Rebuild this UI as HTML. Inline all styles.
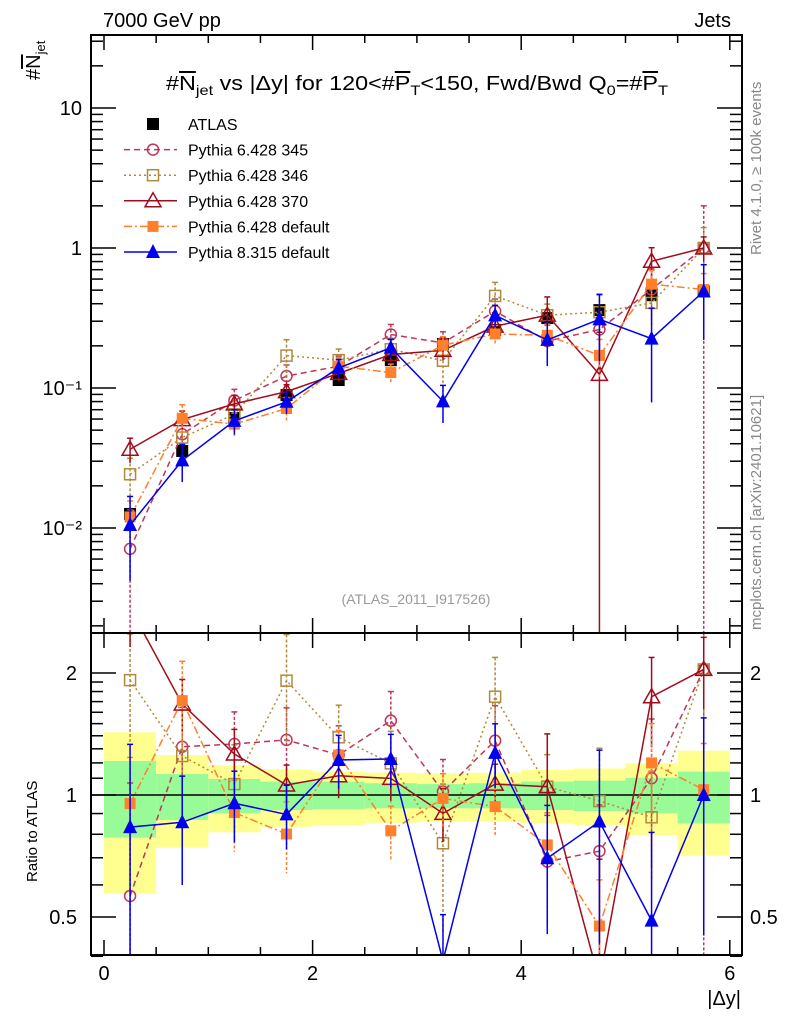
<!DOCTYPE html>
<html><head><meta charset="utf-8">
<style>
html,body{margin:0;background:#fff;overflow:hidden;width:786px;height:1024px;}
svg{display:block;font-family:"Liberation Sans",Arial,sans-serif;}
.ov{text-decoration:overline;}
</style></head>
<body>
<svg id="chart" width="786" height="1024" viewBox="0 0 786 1024" xmlns="http://www.w3.org/2000/svg">
<rect width="786" height="1024" fill="#fff"/>
<text x="103" y="27" font-size="20">7000 GeV pp</text>
<text x="731" y="27" font-size="20" text-anchor="end">Jets</text>
<text transform="translate(40,80) rotate(-90)" font-size="20">#<tspan class="ov">N</tspan><tspan font-size="13" dy="5">jet</tspan></text>
<text x="166" y="90" font-size="20" textLength="502" lengthAdjust="spacingAndGlyphs">#<tspan class="ov">N</tspan><tspan font-size="14" dy="5">jet</tspan><tspan dy="-5"> vs |Δy| for 120&lt;#</tspan><tspan class="ov">P</tspan><tspan font-size="14" dy="5">T</tspan><tspan dy="-5">&lt;150, Fwd/Bwd Q</tspan><tspan font-size="14" dy="5">0</tspan><tspan dy="-5">=#</tspan><tspan class="ov">P</tspan><tspan font-size="14" dy="5">T</tspan></text>
<text transform="translate(761,255) rotate(-90)" font-size="15" fill="#888">Rivet 4.1.0, ≥ 100k events</text>
<text transform="translate(761,630) rotate(-90)" font-size="15" fill="#888">mcplots.cern.ch [arXiv:2401.10621]</text>
<text x="416" y="604" font-size="14" fill="#999" text-anchor="middle">(ATLAS_2011_I917526)</text>
<text transform="translate(37,882) rotate(-90)" font-size="15">Ratio to ATLAS</text>
<text x="741" y="1005" font-size="20" text-anchor="end">|Δy|</text>
<g id="bands"></g>
<g id="plot"></g>
<g id="axes"></g>
<g id="legend"></g>
</svg>
<script>
const binCenters=[0.25,0.75,1.25,1.75,2.25,2.75,3.25,3.75,4.25,4.75,5.25,5.75];
const atlasValues=[0.0126,0.0355,0.061,0.089,0.114,0.158,0.206,0.26,0.316,0.36,0.46,0.49];
const atlasErr=[0.08,0.07,0.06,0.06,0.06,0.06,0.06,0.06,0.07,0.07,0.08,0.1];
const bandStatLo=[0.785,0.868,0.901,0.918,0.923,0.927,0.927,0.927,0.918,0.913,0.901,0.851];
const bandStatHi=[1.213,1.127,1.095,1.079,1.079,1.069,1.064,1.069,1.079,1.085,1.103,1.142];
const bandTotLo=[0.572,0.741,0.809,0.835,0.843,0.854,0.859,0.859,0.851,0.843,0.797,0.708];
const bandTotHi=[1.428,1.255,1.186,1.157,1.142,1.135,1.131,1.135,1.153,1.163,1.197,1.286];
const p345=[0.0071,0.0467,0.0815,0.1217,0.1431,0.241,0.21,0.354,0.2165,0.2617,0.506,1.0];
const p345Err=[0.9,0.25,0.2,0.2,0.18,0.18,0.2,0.22,0.3,0.3,0.4,1.0];
const p346=[0.0242,0.0443,0.0649,0.1704,0.1582,0.1891,0.1566,0.4545,0.3312,0.3478,0.4053,1.0];
const p346Err=[0.3,0.3,0.25,0.3,0.2,0.2,0.4,0.25,0.2,0.35,0.3,0.4];
const p370=[0.0365,0.0595,0.077,0.0942,0.1272,0.1736,0.1856,0.2766,0.3312,0.125,0.804,1.0];
const p370Err=[0.2,0.15,0.15,0.12,0.12,0.12,0.15,0.12,0.35,1.0,0.25,0.2];
const pdef=[0.012,0.0607,0.0552,0.0713,0.1431,0.1289,0.2021,0.2434,0.238,0.171,0.552,0.505];
const pdefErr=[0.3,0.25,0.2,0.2,0.15,0.15,0.15,0.15,0.2,0.3,0.25,0.3];
const p8=[0.0105,0.0304,0.0582,0.0797,0.1391,0.1939,0.0803,0.3302,0.2206,0.3096,0.2254,0.49];
const p8Err=[0.6,0.3,0.2,0.18,0.15,0.15,0.3,0.18,0.35,0.5,0.65,0.55];
const seriesNames=["Pythia 6.428 345","Pythia 6.428 346","Pythia 6.428 370","Pythia 6.428 default","Pythia 8.315 default"];
const yTickMain=["10","1","10⁻¹","10⁻²"];
const xTickLabels=["0","2","4","6"];

const NS="http://www.w3.org/2000/svg";
const L=91,R=742,T=35,MB=633,RB=955;
const xs=v=>104+104.3*v;
const ym=v=>248-140*Math.log10(v);
const yr=r=>795-405.3*Math.log10(r);
function mk(tag,attrs,parent){const e=document.createElementNS(NS,tag);for(const k in attrs)e.setAttribute(k,attrs[k]);parent.appendChild(e);return e;}
const plot=document.getElementById('plot'),axes=document.getElementById('axes'),bands=document.getElementById('bands'),leg=document.getElementById('legend');

const defs=mk('defs',{},document.getElementById('chart'));
const c1=mk('clipPath',{id:'cm'},defs);mk('rect',{x:L,y:T,width:R-L,height:MB-T},c1);
const c2=mk('clipPath',{id:'cr'},defs);mk('rect',{x:L,y:MB,width:R-L,height:RB-MB},c2);

binCenters.forEach((c,i)=>{
  const x0=xs(c-0.25),x1=xs(c+0.25);
  let r=mk('rect',{x:x0,y:yr(bandTotHi[i]),width:x1-x0,height:yr(bandTotLo[i])-yr(bandTotHi[i]),fill:'#ffff90'},bands);
  
  
  r=mk('rect',{x:x0,y:yr(bandStatHi[i]),width:x1-x0,height:yr(bandStatLo[i])-yr(bandStatHi[i]),fill:'#98fb98'},bands);
  
  
});
let ref=mk('line',{x1:L,x2:R,y1:yr(1),y2:yr(1),stroke:'#000','stroke-width':1.5},bands);



const styles=[
 {vals:p345,err:p345Err,col:'#c03558',dash:'6,4',mark:'circle'},
 {vals:p346,err:p346Err,col:'#b08a3c',dash:'2,3',mark:'opensq'},
 {vals:p370,err:p370Err,col:'#a00c1c',dash:'',mark:'opentri'},
 {vals:pdef,err:pdefErr,col:'#ff7f2a',dash:'8,3,2,3',mark:'fillsq'},
 {vals:p8,err:p8Err,col:'#0000ee',dash:'',mark:'filltri'}
];
function marker(g,type,x,y,col){
  if(type==='circle')mk('circle',{cx:x,cy:y,r:5.5,fill:'none',stroke:col,'stroke-width':1.5},g);
  else if(type==='opensq')mk('rect',{x:x-5.5,y:y-5.5,width:11,height:11,fill:'none',stroke:col,'stroke-width':1.5},g);
  else if(type==='fillsq')mk('rect',{x:x-5.5,y:y-5.5,width:11,height:11,fill:col},g);
  else if(type==='blacksq')mk('rect',{x:x-6,y:y-6,width:12,height:12,fill:col},g);
  else if(type==='opentri')mk('polygon',{points:`${x},${y-8} ${x-8},${y+6} ${x+8},${y+6}`,fill:'none',stroke:col,'stroke-width':1.5},g);
  else if(type==='filltri')mk('polygon',{points:`${x},${y-8} ${x-7},${y+6} ${x+7},${y+6}`,fill:col},g);
}
const ga=mk('g',{'clip-path':'url(#cm)'},plot);


binCenters.forEach((c,i)=>{
  const v=atlasValues[i],x=xs(c);
  mk('line',{x1:x,x2:x,y1:ym(v*(1+atlasErr[i])),y2:ym(v*(1-atlasErr[i])),stroke:'#000','stroke-width':1.5},ga);
  marker(ga,'blacksq',x,ym(v),'#000');
});
styles.forEach((s,si)=>{
  ['main','ratio'].forEach(panel=>{
    const g=mk('g',{'clip-path':panel==='main'?'url(#cm)':'url(#cr)'},plot);
    
    
    const fy=panel==='main'?(i,v)=>ym(v):(i,v)=>yr(v/atlasValues[i]);
    const pts=binCenters.map((c,i)=>xs(c)+','+fy(i,s.vals[i])).join(' ');
    mk('polyline',{points:pts,fill:'none',stroke:s.col,'stroke-width':1.5,'stroke-dasharray':s.dash},g);
    binCenters.forEach((c,i)=>{
      const v=s.vals[i],x=xs(c),e=s.err[i];
      const lo=Math.max(v*(1-e),v*0.001);
      mk('line',{x1:x,x2:x,y1:fy(i,v*(1+e)),y2:fy(i,lo),stroke:s.col,'stroke-width':1.5,'stroke-dasharray':s.dash?'3,2':''},g);
      mk('line',{x1:x-3,x2:x+3,y1:fy(i,v*(1+e)),y2:fy(i,v*(1+e)),stroke:s.col,'stroke-width':1.5},g);
      marker(g,s.mark,x,fy(i,v),s.col);
    });
  });
});

[[T,MB],[MB,RB]].forEach(([t,b],k)=>{
  const f=mk('rect',{x:L,y:t,width:R-L,height:b-t,fill:'none',stroke:'#000','stroke-width':2},axes);
  
  
  for(let v=0;v<=6.01;v+=0.5){
    const x=xs(v),len=(Math.abs(v%2)<0.01)?15:8;
    mk('line',{x1:x,x2:x,y1:b,y2:b-len,stroke:'#000','stroke-width':1.5},axes);
    mk('line',{x1:x,x2:x,y1:t,y2:t+len,stroke:'#000','stroke-width':1.5},axes);
  }
});
xTickLabels.forEach((t,i)=>{
  const e=mk('text',{x:xs(i*2),y:980,'font-size':20,'text-anchor':'middle'},axes);e.textContent=t;
  
  
});
for(let d=-3;d<=1;d++){for(let m=1;m<=9;m++){
  const v=m*Math.pow(10,d),y=ym(v);if(y<T||y>MB)continue;
  const len=m===1?25:12;
  mk('line',{x1:L,x2:L+len,y1:y,y2:y,stroke:'#000','stroke-width':1.5},axes);
  mk('line',{x1:R,x2:R-len,y1:y,y2:y,stroke:'#000','stroke-width':1.5},axes);
}}
yTickMain.forEach((t,i)=>{
  const e=mk('text',{x:82,y:ym(Math.pow(10,1-i))+7,'font-size':20,'text-anchor':'end'},axes);e.textContent=t;
  
  
});
[0.4,0.5,0.6,0.7,0.8,0.9,1,2].forEach(v=>{
  const y=yr(v),len=(v===1||v===2||v===0.5)?25:12;
  mk('line',{x1:L,x2:L+len,y1:y,y2:y,stroke:'#000','stroke-width':1.5},axes);
  mk('line',{x1:R,x2:R-len,y1:y,y2:y,stroke:'#000','stroke-width':1.5},axes);
});
[1.1,1.2,1.3,1.4,1.5,1.6,1.7,1.8,1.9].forEach(v=>{
  const y=yr(v);
  mk('line',{x1:L,x2:L+12,y1:y,y2:y,stroke:'#000','stroke-width':1.5},axes);
  mk('line',{x1:R,x2:R-12,y1:y,y2:y,stroke:'#000','stroke-width':1.5},axes);
});
[["2",2],["1",1],["0.5",0.5]].forEach(([t,v])=>{
  let e=mk('text',{x:77,y:yr(v)+7,'font-size':20,'text-anchor':'end'},axes);e.textContent=t;
  
  
  e=mk('text',{x:750,y:yr(v)+7,'font-size':20},axes);e.textContent=t;
  
  
});
const lg=[{name:'ATLAS',mark:'blacksq',col:'#000',dash:null}].concat(styles.map((s,i)=>({name:seriesNames[i],mark:s.mark,col:s.col,dash:s.dash})));
lg.forEach((it,i)=>{
  const y=124+25.6*i;
  const g=mk('g',{},leg);
  
  
  if(it.dash!==null)mk('line',{x1:124,x2:177,y1:y,y2:y,stroke:it.col,'stroke-width':1.5,'stroke-dasharray':it.dash},g);
  marker(g,it.mark,153,y,it.col);
  const t=mk('text',{x:188,y:y+6,'font-size':16},g);t.textContent=it.name;
});
</script>
</body></html>
